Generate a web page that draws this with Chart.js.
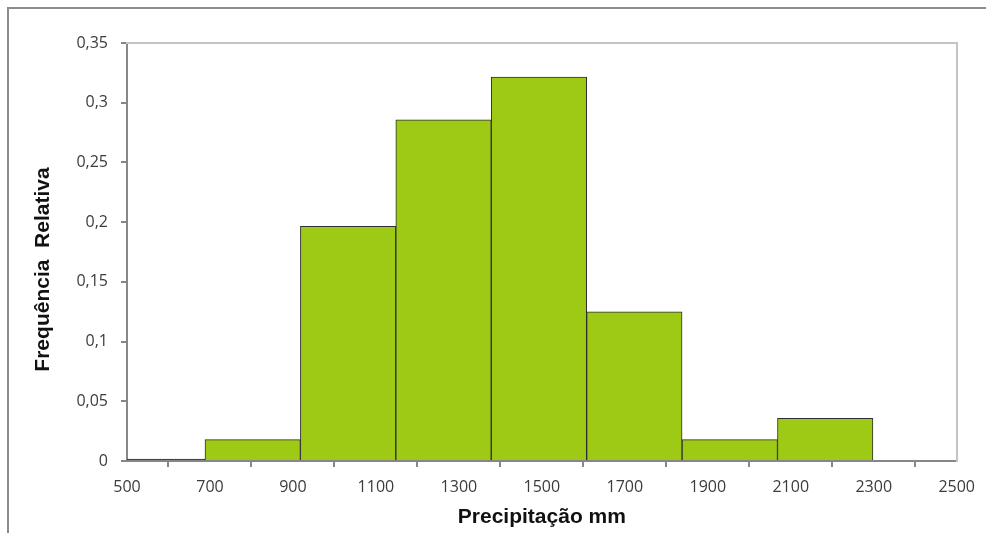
<!DOCTYPE html>
<html>
<head>
<meta charset="utf-8">
<script src="https://cdn.jsdelivr.net/npm/chart.js@4/dist/chart.umd.min.js"></script>
<style>
  body { margin: 0; overflow: hidden; background: #fff; }
  #frame { position: absolute; left: 7px; top: 7px; width: 1100px; height: 700px; border: 2px solid #8c8c8c; }
  #histChart { position: absolute; left: 0; top: 0; }
</style>
</head>
<body>
<div id="frame"></div>
<canvas id="histChart" width="986" height="533"></canvas>
<script>
// bin centres (mm), bin width 230 mm
const binCenters = [573, 803, 1033, 1263, 1493, 1723, 1953, 2183];
const relFreq = [0, 0.0179, 0.1964, 0.2857, 0.3214, 0.125, 0.0179, 0.0357];
const xTicks = [500, 700, 900, 1100, 1300, 1500, 1700, 1900, 2100, 2300, 2500];

const green = '#9ec914';
const axisGray = '#878787';
const tickFont = { family: 'Open Sans', size: 16 };
const titleFont = { family: 'Liberation Sans', size: 21, weight: 'bold' };

const histCtx = document.getElementById('histChart');

new Chart(histCtx, {
    type: 'bar',
    data: {
        datasets: [{
            label: 'Frequência Relativa',
            data: binCenters.map((c, i) => ({ x: c, y: relFreq[i] })),
            xAxisID: 'xb',
            yAxisID: 'y',
            backgroundColor: (ctx) => (ctx.raw && ctx.raw.y === 0) ? '#3a3a3a' : green,
            borderColor: '#2e2e2e',
            borderWidth: 1,
            borderSkipped: 'bottom',
            minBarLength: 2,
            barPercentage: 1,
            categoryPercentage: 1
        }]
    },
    options: {
        responsive: false,
        animation: false,
        devicePixelRatio: 1,
        layout: { padding: { top: 43, right: 28, left: 31, bottom: 3 } },
        plugins: {
            legend: { display: false },
            tooltip: { enabled: false }
        },
        scales: {
            // hidden axis carrying the bins, so bar width follows the bin spacing
            xb: {
                type: 'linear',
                position: 'bottom',
                display: false,
                min: 500,
                max: 2500,
                offset: false,
                afterBuildTicks: (s) => { s.ticks = binCenters.map(v => ({ value: v })); }
            },
            x: {
                type: 'linear',
                position: 'bottom',
                min: 500,
                max: 2500,
                offset: false,
                afterBuildTicks: (s) => { s.ticks = xTicks.map(v => ({ value: v })); },
                afterFit: (s) => { s.height = 69; },
                ticks: {
                    color: '#3c3c3c',
                    font: tickFont,
                    padding: 11,
                    maxRotation: 0,
                    autoSkip: false,
                    callback: (v) => String(v)
                },
                grid: { display: true, drawOnChartArea: false, color: axisGray, lineWidth: 2, tickLength: 6 },
                border: { color: axisGray, width: 2 },
                title: {
                    display: true,
                    text: 'Precipitação mm',
                    color: '#111',
                    font: titleFont,
                    padding: 0
                }
            },
            y: {
                position: 'left',
                min: 0,
                max: 0.35,
                afterFit: (s) => { s.width = 96; },
                ticks: {
                    stepSize: 0.05,
                    color: '#3c3c3c',
                    font: tickFont,
                    padding: 13,
                    callback: (v) => parseFloat(v.toFixed(2)).toString().replace('.', ',')
                },
                grid: { display: true, drawOnChartArea: false, color: axisGray, lineWidth: 2, tickLength: 6 },
                border: { color: axisGray, width: 2 },
                title: {
                    display: true,
                    // trailing spaces push the rotated title a little lower, as in the original
                    text: 'Frequência  Relativa      ',
                    color: '#111',
                    font: titleFont,
                    padding: 0
                }
            },
            x2: {
                type: 'linear',
                position: 'top',
                min: 0,
                max: 1,
                ticks: { display: false },
                grid: { display: true, drawOnChartArea: false, drawTicks: false },
                border: { color: '#c4c4c4', width: 2 },
                afterFit: (s) => { s.height = 0; }
            },
            y2: {
                type: 'linear',
                position: 'right',
                min: 0,
                max: 1,
                ticks: { display: false },
                grid: { display: true, drawOnChartArea: false, drawTicks: false },
                border: { color: '#c4c4c4', width: 2 },
                afterFit: (s) => { s.width = 0; }
            }
        }
    }
});
</script>
</body>
</html>
